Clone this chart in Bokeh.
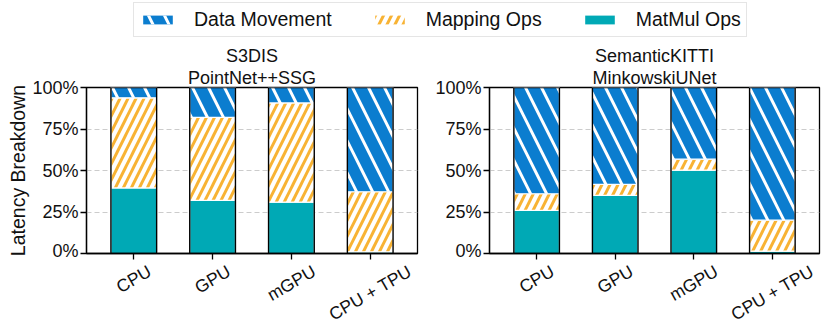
import numpy as np
from math import pi
from bokeh.plotting import figure
from bokeh.models import (FactorRange, Range1d, FixedTicker, NumeralTickFormatter, Title,
                          Legend, LegendItem, ColumnDataSource)
from bokeh.layouts import column, row
from bokeh.embed import file_html
from bokeh.resources import INLINE
from bokeh.core.properties import value

# ---------------- data ----------------
platforms = ["CPU", "GPU", "mGPU", "CPU + TPU"]
series_names = ["Data Movement", "Mapping Ops", "MatMul Ops"]

s3dis_title = ["S3DIS", "PointNet++SSG"]
s3dis_matmul = [39.5, 32.0, 31.0, 1.0]
s3dis_mapping = [54.3, 50.0, 59.7, 36.2]
s3dis_datamove = [6.2, 18.0, 9.3, 62.8]

kitti_title = ["SemanticKITTI", "MinkowskiUNet"]
kitti_matmul = [26.0, 35.0, 50.2, 1.4]
kitti_mapping = [10.0, 6.6, 6.6, 18.7]
kitti_datamove = [64.0, 58.4, 43.2, 79.9]

y_ticks = [0, 25, 50, 75, 100]
y_label = "Latency Breakdown"

# ---------------- style ----------------
FONT = "Liberation Sans"
BLUE = "#0b7dcf"
ORANGE = "#f8b334"
TEAL = "#00a9b5"
BW = 0.58
TICK_FS = 18
XLAB_FS = 17.5
LEGEND_H = 40
TOP_B = 47
FRAME_H = 166
BOTTOM_B = 7
MAIN_H = TOP_B + FRAME_H + BOTTOM_B
LABEL_H = 324 - LEGEND_H - MAIN_H

DM_STYLE = dict(fill_color=BLUE, hatch_pattern="\\", hatch_color="white", hatch_scale=32, hatch_weight=3)
MP_STYLE = dict(fill_color="white", hatch_pattern="/", hatch_color=ORANGE, hatch_scale=16, hatch_weight=3)
MM_STYLE = dict(fill_color=TEAL)

CHAR_W = {'C': .722, 'P': .667, 'U': .722, 'G': .778, 'm': .833, ' ': .278, '+': .584, 'T': .611}


def text_w(s):
    return sum(CHAR_W.get(c, 0.6) for c in s) * XLAB_FS


def make_panel(title_lines, matmul, mapping, datamove, with_ylabel, width, bl, br):
    mm = np.array(matmul) / 100
    mp = np.array(mapping) / 100
    dm = np.array(datamove) / 100
    src = ColumnDataSource(dict(x=platforms, mm_top=mm, mp_top=mm + mp, dm_top=mm + mp + dm))
    xr = FactorRange(*platforms, range_padding=0.05)
    p = figure(x_range=xr, y_range=Range1d(0, 1),
               width=width, height=MAIN_H, output_backend="svg", toolbar_location=None,
               min_border_left=bl, min_border_right=br, min_border_top=TOP_B,
               min_border_bottom=BOTTOM_B)
    p.vbar(x="x", bottom=0, top="mm_top", width=BW, line_color="white", line_width=1.2,
           source=src, **MM_STYLE)
    p.vbar(x="x", bottom="mm_top", top="mp_top", width=BW, line_color="white", line_width=1.2,
           source=src, **MP_STYLE)
    p.vbar(x="x", bottom="mp_top", top="dm_top", width=BW, line_color="white", line_width=1.2,
           source=src, **DM_STYLE)
    p.vbar(x="x", bottom=0, top="dm_top", width=BW, fill_color=None, line_color="black",
           line_width=1.4, source=src)

    p.yaxis.ticker = FixedTicker(ticks=[t / 100 for t in y_ticks])
    p.yaxis.formatter = NumeralTickFormatter(format="0%")
    p.axis.major_label_text_font = FONT
    p.yaxis.major_label_text_font_size = f"{TICK_FS}px"
    p.yaxis.major_label_text_color = "#111111"
    p.yaxis.major_label_standoff = 2
    # x tick labels are drawn (rotated, centred) in the strip below
    p.xaxis.major_label_text_font_size = "1px"
    p.xaxis.major_label_text_color = None
    p.xaxis.major_label_standoff = 0
    p.axis.axis_line_width = 1.3
    p.axis.major_tick_line_width = 1.3
    p.axis.major_tick_out = 6
    p.axis.major_tick_in = 0
    p.axis.minor_tick_line_color = None
    if with_ylabel:
        p.yaxis.axis_label = y_label
        p.yaxis.axis_label_text_font = FONT
        p.yaxis.axis_label_text_font_size = "19.5px"
        p.yaxis.axis_label_text_font_style = "normal"
        p.yaxis.axis_label_text_color = "#111111"
        p.yaxis.axis_label_standoff = 0

    p.xgrid.visible = False
    p.ygrid.grid_line_color = "#cccccc"
    p.ygrid.grid_line_dash = "5 3"
    p.ygrid.grid_line_width = 1
    p.outline_line_color = "black"
    p.outline_line_width = 1.3
    p.outline_line_alpha = 1

    for line in reversed(title_lines):
        p.add_layout(Title(text=line, align="center", text_font=FONT, text_font_size="18px",
                           text_font_style="normal", text_color="#111111", standoff=0), "above")

    # label strip: shares the x range; its y range is in pixels below the strip top
    lab = figure(x_range=xr, y_range=Range1d(-LABEL_H, 0), width=width, height=LABEL_H,
                 output_backend="svg", toolbar_location=None,
                 min_border_left=bl, min_border_right=br, min_border_top=0, min_border_bottom=0,
                 x_axis_type=None, y_axis_type=None)
    lab.outline_line_color = None
    lab.grid.visible = False
    box_h = 1.117 * XLAB_FS
    ys = [-(0.8 + (text_w(s) * 0.5 + box_h * 0.866) / 2) for s in platforms]
    lsrc = ColumnDataSource(dict(x=platforms, y=ys, text=platforms))
    lab.text(x="x", y="y", text="text", angle=pi / 6, text_align="center",
             text_baseline="middle", text_font=value(FONT), text_font_size=f"{XLAB_FS}px",
             text_color="#111111", source=lsrc)
    return column(p, lab)


p1 = make_panel(s3dis_title, s3dis_matmul, s3dis_mapping, s3dis_datamove, True, 429, 86, 12)
p2 = make_panel(kitti_title, kitti_matmul, kitti_mapping, kitti_datamove, False, 394, 60, 4)

# ---------------- legend strip ----------------
lf = figure(width=823, height=LEGEND_H, x_range=Range1d(0, 1), y_range=Range1d(0, 1),
            output_backend="svg", toolbar_location=None, min_border=0,
            x_axis_type=None, y_axis_type=None)
lf.outline_line_color = None
styles = {"Data Movement": DM_STYLE, "Mapping Ops": MP_STYLE, "MatMul Ops": MM_STYLE}
items = []
for name in series_names:
    # legend proxy placed outside the visible range
    r = lf.vbar(x=[5], bottom=[0], top=[0], width=0.5, line_color=None, **styles[name])
    items.append(LegendItem(label=name, renderers=[r]))
legend = Legend(items=items, orientation="horizontal", location=(133, 3),
                label_text_font=FONT, label_text_font_size="19.5px", label_text_color="#111111",
                glyph_width=37, glyph_height=11, label_standoff=18, spacing=39,
                padding=5, margin=0, label_height=20,
                border_line_color="#cccccc", border_line_width=1, background_fill_color="white")
lf.add_layout(legend)

layout = column(lf, row(p1, p2))
open("out.html", "w").write(file_html(layout, INLINE))
